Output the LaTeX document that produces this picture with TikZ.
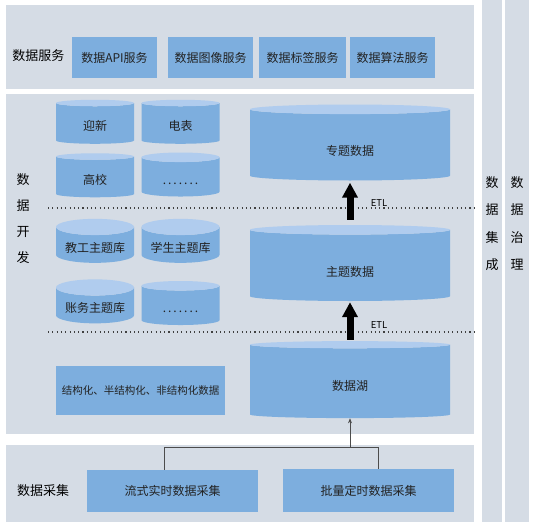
\documentclass[tikz,border=0pt]{standalone}
\usepackage{fontspec}
\newfontfamily\cjk{Noto Sans CJK SC}
\usetikzlibrary{shapes.geometric, arrows.meta}
\definecolor{panelbg}{HTML}{D5DCE5}
\definecolor{boxblue}{HTML}{7DAEDE}
\definecolor{cyltop}{HTML}{B0CCEE}
\definecolor{txt}{HTML}{222222}

\begin{document}
\begin{tikzpicture}[x = 1pt, y = -1pt,
	every node/.style = {font = \cjk\fontsize{12pt}{14pt}\selectfont, text = txt},
	panel/.style = {fill = panelbg},
	bluebox/.style = {fill = boxblue, inner sep = 0pt},
	cyl/.style = {cylinder, shape border rotate = 90, cylinder uses custom fill,
		cylinder body fill = boxblue, cylinder end fill = cyltop, inner sep = 0pt},
	smallcyl/.style = {cyl, minimum width = 78pt, minimum height = 44pt, aspect = 0.27,
		text height = 16pt, text depth = 2pt},
	bigcyl/.style = {cyl, minimum width = 200pt, minimum height = 76pt, aspect = 0.2,
		text height = 23pt, text depth = 2pt},
	sidelabel/.style = {font = \cjk\fontsize{13pt}{26pt}\selectfont, text = black, align = center},
	dotline/.style = {line width = 1.1pt, dash pattern = on 1.1pt off 3.2pt, color = black!75},
	etlarrow/.style = {line width = 7pt, -{Triangle[width = 15pt, length = 15pt]}},
	feed/.style = {line width = 0.6pt, color = black!70}
]
	\useasboundingbox (0,0) rectangle (538,527);

	% panels
	\fill[panel] (6,5) rectangle (474,89);
	\fill[panel] (6,94) rectangle (474,434);
	\fill[panel] (6,445) rectangle (474,522);
	\fill[panel] (482,0) rectangle (502,522);
	\fill[panel] (505,0) rectangle (529,522);

	% data service
	\node[sidelabel] (svc) at (38.5,56) {数据服务};
	\node[bluebox, minimum width = 85pt, minimum height = 41pt] (api) at (114.5,57.5) {数据API服务};
	\node[bluebox, minimum width = 85pt, minimum height = 41pt] (img) at (210.5,57.5) {数据图像服务};
	\node[bluebox, minimum width = 87pt, minimum height = 41pt] (tag) at (302.5,57.5) {数据标签服务};
	\node[bluebox, minimum width = 85pt, minimum height = 41pt] (alg) at (392.5,57.5) {数据算法服务};

	% data development
	\node[sidelabel] (dev) at (23,219) {数\\据\\开\\发};
	\node[smallcyl] (yx) at (95,123.5) {迎新};
	\node[smallcyl] (db) at (180.5,123.5) {电表};
	\node[smallcyl] (gx) at (95,177) {高校};
	\node[smallcyl] (more1) at (180.5,177) {.\,.\,.\,.\,.\,.\,.};
	\node[smallcyl] (jg) at (95,245) {教工主题库};
	\node[smallcyl] (xs) at (180.5,245) {学生主题库};
	\node[smallcyl] (cw) at (95,305.5) {账务主题库};
	\node[smallcyl] (more2) at (180.5,305.5) {.\,.\,.\,.\,.\,.\,.};
	\node[bluebox, minimum width = 169pt, minimum height = 49pt,
		font = \cjk\fontsize{10.5pt}{12pt}\selectfont] (raw) at (140.5,390.5) {结构化、半结构化、非结构化数据};

	\node[bigcyl] (zsj) at (350,145) {专题数据};
	\node[bigcyl] (zt) at (350,265.5) {主题数据};
	\node[bigcyl, minimum height = 77pt, text height = 20pt] (lake) at (350,381.5) {数据湖};

	\draw[dotline] (48,208) -- (474,208);
	\draw[dotline] (48,332) -- (474,332);

	\draw[etlarrow] ([yshift = 5pt]zt.north) -- ([yshift = -2pt]zsj.south);
	\draw[etlarrow] ([yshift = 1pt]lake.north) -- ([yshift = -1pt]zt.south);
	\node[font = \cjk\fontsize{9.5pt}{10pt}\selectfont, text = black] (etl1) at (379,203) {ETL};
	\node[font = \cjk\fontsize{9.5pt}{10pt}\selectfont, text = black] (etl2) at (379,325) {ETL};

	% data collection
	\node[sidelabel] (col) at (43,491) {数据采集};
	\node[bluebox, minimum width = 171pt, minimum height = 42pt] (ls) at (172.5,491) {流式实时数据采集};
	\node[bluebox, minimum width = 171pt, minimum height = 43pt] (pl) at (368.5,490.5) {批量定时数据采集};

	\coordinate (split) at (350,447);
	\draw[feed] ([xshift = -8pt]ls.north) |- (split);
	\draw[feed] ([xshift = 10pt]pl.north) |- (split);
	\draw[feed, -{Stealth[length = 5pt, width = 4pt]}] (split) -- (lake.south);

	% integration and governance
	\node[sidelabel, font = \cjk\fontsize{13pt}{27.5pt}\selectfont] (integ) at (492,223.5) {数\\据\\集\\成};
	\node[sidelabel, font = \cjk\fontsize{13pt}{27.5pt}\selectfont] (gov) at (517,223.5) {数\\据\\治\\理};
\end{tikzpicture}
\end{document}
